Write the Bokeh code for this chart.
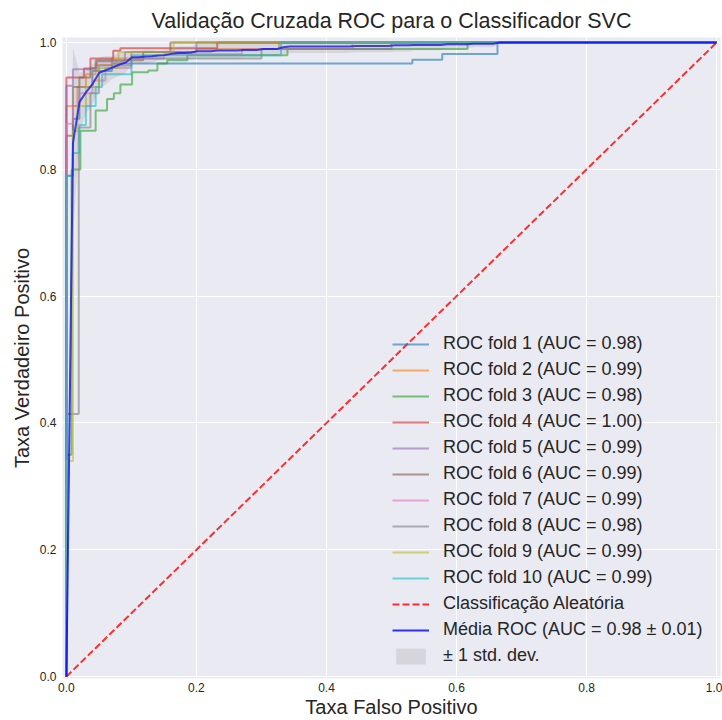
import numpy as np
from bokeh.plotting import figure
from bokeh.models import Range1d, FixedTicker
from bokeh.embed import file_html
from bokeh.resources import INLINE

# Per-fold ROC curves: at each false positive rate the true positive rate jumps to the given level
fold_fpr = [
    [0.0, 0.01, 0.02, 0.04, 0.07, 0.532, 0.578, 0.663],
    [0.0, 0.017, 0.03, 0.045, 0.07, 0.10, 0.20, 0.327],
    [0.0, 0.008, 0.0215, 0.045, 0.0625, 0.073, 0.083, 0.101, 0.126, 0.14, 0.155, 0.186, 0.34, 0.617],
    [0.0, 0.027, 0.037, 0.072, 0.083, 0.232],
    [0.0, 0.01, 0.047, 0.09, 0.20],
    [0.0, 0.01, 0.02, 0.037, 0.045, 0.118, 0.16],
    [0.0, 0.01, 0.02, 0.04, 0.06, 0.10, 0.15, 0.27, 0.44],
    [0.0, 0.019, 0.037, 0.05, 0.10, 0.30, 0.50],
    [0.0, 0.01, 0.017, 0.03, 0.05, 0.08, 0.165],
    [0.0, 0.01, 0.02, 0.03, 0.045, 0.055, 0.10, 0.33],
]
fold_tpr = [
    [0.79, 0.88, 0.93, 0.955, 0.967, 0.973, 0.982, 1.0],
    [0.90, 0.93, 0.95, 0.965, 0.975, 0.985, 0.99, 1.0],
    [0.35, 0.80, 0.861, 0.893, 0.911, 0.92, 0.934, 0.953, 0.956, 0.967, 0.972, 0.98, 0.99, 1.0],
    [0.945, 0.959, 0.975, 0.987, 0.991, 1.0],
    [0.932, 0.958, 0.97, 0.985, 1.0],
    [0.853, 0.93, 0.945, 0.96, 0.972, 0.985, 1.0],
    [0.872, 0.90, 0.92, 0.94, 0.96, 0.975, 0.982, 0.99, 1.0],
    [0.414, 0.866, 0.92, 0.964, 0.975, 0.99, 1.0],
    [0.34, 0.86, 0.90, 0.93, 0.96, 0.985, 1.0],
    [0.79, 0.826, 0.87, 0.90, 0.93, 0.95, 0.98, 1.0],
]
fold_auc = [0.98, 0.99, 0.98, 1.00, 0.99, 0.99, 0.99, 0.98, 0.99, 0.99]
fold_colors = ["#1f77b4", "#ff7f0e", "#2ca02c", "#d62728", "#9467bd",
               "#8c564b", "#e377c2", "#7f7f7f", "#bcbd22", "#17becf"]
mean_auc = 0.98
std_auc = 0.01
tick_values = [0.0, 0.2, 0.4, 0.6, 0.8, 1.0]
tick_labels = ["0.0", "0.2", "0.4", "0.6", "0.8", "1.0"]

TEXT = "#262626"
FONT = "'Liberation Sans', Arial, sans-serif"


def roc_path(fpr, tpr):
    """Turn jump points into the staircase corners of an ROC curve."""
    xs, ys = [0.0], [0.0]
    for f, t in zip(fpr, tpr):
        xs += [f, f]
        ys += [ys[-1], t]
    xs.append(1.0)
    ys.append(ys[-1])
    return np.array(xs), np.array(ys)


p = figure(width=722, height=720, output_backend="svg", toolbar_location=None,
           x_range=Range1d(-0.006, 1.006), y_range=Range1d(-0.003, 1.008),
           min_border_left=62, min_border_right=2, min_border_top=37, min_border_bottom=40)

p.background_fill_color = "#EAEAF2"
p.border_fill_color = "white"
p.outline_line_color = None
for g in (p.xgrid, p.ygrid):
    g.grid_line_color = "white"
    g.grid_line_width = 1
    g.ticker = FixedTicker(ticks=tick_values)

for ax in (p.xaxis, p.yaxis):
    ax.ticker = FixedTicker(ticks=tick_values)
    ax.major_label_overrides = {v: s for v, s in zip(tick_values, tick_labels)}
    ax.axis_line_color = None
    ax.major_tick_line_color = None
    ax.minor_tick_line_color = None
    ax.major_tick_out = 0
    ax.major_tick_in = 0
    ax.minor_tick_out = 0
    ax.minor_tick_in = 0
    ax.major_label_text_font = FONT
    ax.major_label_text_font_size = "12px"
    ax.major_label_text_color = TEXT
    ax.axis_label_text_font = FONT
    ax.axis_label_text_font_size = "20px"
    ax.axis_label_text_font_style = "normal"
    ax.axis_label_text_color = TEXT

p.xaxis.axis_label = "Taxa Falso Positivo"
p.yaxis.axis_label = "Taxa Verdadeiro Positivo"
p.xaxis.major_label_standoff = 4
p.yaxis.major_label_standoff = 6
p.xaxis.axis_label_standoff = 1
p.yaxis.axis_label_standoff = 4

p.title.text = "Validação Cruzada ROC para o Classificador SVC"
p.title.align = "center"
p.title.text_font = FONT
p.title.text_font_size = "21.5px"
p.title.text_font_style = "normal"
p.title.text_color = TEXT

mean_fpr = np.linspace(0, 1, 100)
interp_tprs = []
for i, (fpr, tpr) in enumerate(zip(fold_fpr, fold_tpr)):
    xs, ys = roc_path(fpr, tpr)
    p.line(xs, ys, line_color=fold_colors[i], line_width=2, line_alpha=0.6,
           legend_label=f"ROC fold {i + 1} (AUC = {fold_auc[i]:.2f})")
    it = np.interp(mean_fpr, xs, ys)
    it[0] = 0.0
    interp_tprs.append(it)

p.line([0, 1], [0, 1], line_color="#ff0000", line_width=2, line_alpha=0.8,
       line_dash="7 3", legend_label="Classificação Aleatória")

mean_tpr = np.mean(interp_tprs, axis=0)
mean_tpr[-1] = 1.0
std_tpr = np.std(interp_tprs, axis=0)
p.line(mean_fpr, mean_tpr, line_color="#0000ff", line_width=2, line_alpha=0.8,
       legend_label=f"Média ROC (AUC = {mean_auc:.2f} ± {std_auc:.2f})")

upper = np.minimum(mean_tpr + std_tpr, 1)
lower = np.maximum(mean_tpr - std_tpr, 0)
p.varea(x=mean_fpr, y1=lower, y2=upper, fill_color="grey", fill_alpha=0.2,
        legend_label="± 1 std. dev.")

lg = p.legend[0]
lg.location = (320, 2)
lg.background_fill_alpha = 0
lg.border_line_alpha = 0
lg.label_text_font = FONT
lg.label_text_font_size = "18px"
lg.label_text_color = TEXT
lg.glyph_width = 37
lg.glyph_height = 20
lg.label_height = 20
lg.spacing = 5
lg.padding = 10
lg.margin = 0
lg.label_standoff = 14

open("out.html", "w").write(file_html(p, INLINE))
